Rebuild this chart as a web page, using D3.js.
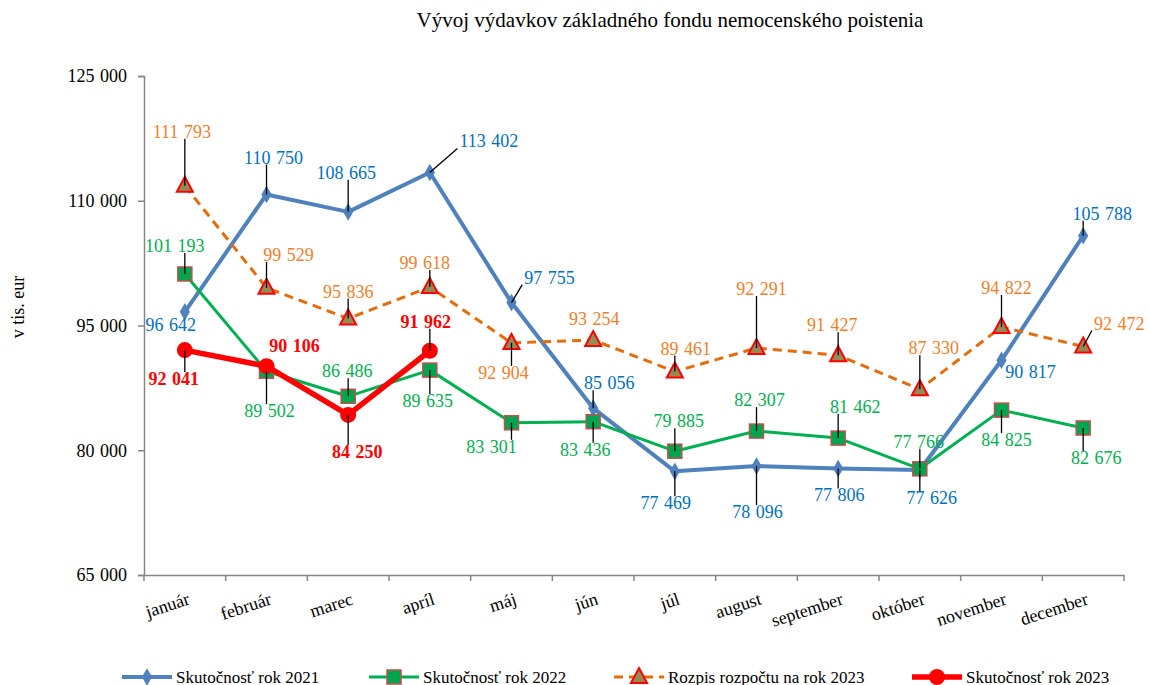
<!DOCTYPE html>
<html>
<head>
<meta charset="utf-8">
<script src="https://cdn.jsdelivr.net/npm/d3@7"></script>
<style>
  body { margin: 0; background: #fff; }
  text { font-family: "Liberation Serif", "Times New Roman", serif; }
</style>
</head>
<body>
<div id="chart"></div>
<script>
// data
var months = ["január", "február", "marec", "apríl", "máj", "jún", "júl", "august", "september", "október", "november", "december"];
var yTicks = [65000, 80000, 95000, 110000, 125000];
var real2021 = [96642, 110750, 108665, 113402, 97755, 85056, 77469, 78096, 77806, 77626, 90817, 105788];
var real2022 = [101193, 89502, 86486, 89635, 83301, 83436, 79885, 82307, 81462, 77766, 84825, 82676];
var budget2023 = [111793, 99529, 95836, 99618, 92904, 93254, 89461, 92291, 91427, 87330, 94822, 92472];
var real2023 = [92041, 90106, 84250, 91962];
var seriesNames = ["Skutočnosť rok 2021", "Skutočnosť rok 2022", "Rozpis rozpočtu na rok 2023", "Skutočnosť rok 2023"];

// label placement (offset of label centre from its point)
var off2021 = [[-14,13],[7,-37],[-2,-39],[59,-31],[38,-25],[16,-25],[-9,32],[1,46],[1,27],[12,28],[29,12],[19,-22]];
var off2022 = [[-10,-28],[3,40],[-1,-25],[-2,31],[-20,24],[-8,28],[4,-30],[3,-31],[17,-31],[-1,-27],[5,30],[13,30]];
var offBudget = [[-3,-54],[22,-33],[0,-27],[-5,-24],[-8,30],[1,-21],[11,-23],[5,-59],[-6,-30],[14,-41],[5,-39],[36,-23]];
var off2023 = [[-11,29],[28,-20],[9,37],[-4,-29]];

var width = 1149, height = 685;
var pL = 144, pR = 1124, pT = 76, pB = 575;

var svg = d3.select("#chart").append("svg")
    .attr("width", width)
    .attr("height", height);

var x = d3.scaleBand().domain(months).range([pL, pR]);
var y = d3.scaleLinear().domain([65000, 125000]).range([pB, pT]);

var loc = d3.formatLocale({decimal: ",", thousands: " ", grouping: [3], currency: ["", ""]});
var fmt = loc.format(",d");

// title
svg.append("text")
    .attr("x", 670).attr("y", 27)
    .attr("text-anchor", "middle")
    .style("font-size", "21px")
    .text("Vývoj výdavkov základného fondu nemocenského poistenia");

// y axis
var yAxis = d3.axisLeft(y).tickValues(yTicks).tickSize(6).tickPadding(11).tickFormat(fmt);
var gy = svg.append("g").attr("transform", "translate(" + pL + ",0)").call(yAxis);
gy.select(".domain").attr("stroke", "#868686").attr("stroke-width", 1.5);
gy.selectAll(".tick line").attr("stroke", "#868686").attr("stroke-width", 1.5);
gy.selectAll(".tick text").style("font-size", "18px").style("word-spacing", "1px")
    .attr("fill", "#000");

svg.append("text")
    .attr("transform", "translate(24,307) rotate(-90)")
    .attr("text-anchor", "middle")
    .style("font-size", "18px")
    .text("v tis. eur");

// x axis
var xAxis = d3.axisBottom(x).tickSize(0).tickFormat("");
var gx = svg.append("g").attr("transform", "translate(0," + pB + ")").call(xAxis);
gx.select(".domain").attr("stroke", "#868686").attr("stroke-width", 1.5);
var bounds = months.map(function(m) { return x(m); }).concat([pR]);
gx.selectAll(".sep").data(bounds).enter().append("line")
    .attr("x1", function(d) { return d; }).attr("x2", function(d) { return d; })
    .attr("y1", 0).attr("y2", 6)
    .attr("stroke", "#868686").attr("stroke-width", 1.5);
svg.selectAll(".mlabel").data(months).enter().append("text")
    .attr("class", "mlabel")
    .attr("text-anchor", "end")
    .attr("transform", function(d) {
        return "translate(" + (x(d) + x.bandwidth() / 2 + 6) + ",604) rotate(-18)";
    })
    .style("font-size", "18px")
    .text(function(d) { return d; });

var cx = function(d, i) { return x(months[i]) + x.bandwidth() / 2; };

var series = [
  {vals: real2021, off: off2021, color: "#4F81BD", lw: 4, dash: null, text: "#0070C0", bold: false, marker: "diamond"},
  {vals: real2022, off: off2022, color: "#00B050", lw: 3, dash: null, text: "#00B050", bold: false, marker: "square"},
  {vals: budget2023, off: offBudget, color: "#E46C0A", lw: 3, dash: "9,6", text: "#F07F2B", bold: false, marker: "triangle"},
  {vals: real2023, off: off2023, color: "#FF0000", lw: 5.5, dash: null, text: "#FF0000", bold: true, marker: "circle"}
];

function drawMarker(g, type, px, py) {
  if (type === "diamond") {
    g.append("path").attr("d", d3.symbol().type(d3.symbolDiamond).size(90)())
      .attr("transform", "translate(" + px + "," + py + ")")
      .attr("fill", "#4F81BD");
  } else if (type === "square") {
    g.append("rect").attr("x", px - 7).attr("y", py - 7).attr("width", 14).attr("height", 14)
      .attr("fill", "#00A550").attr("stroke", "#C0504D").attr("stroke-width", 1.5);
  } else if (type === "triangle") {
    g.append("path").attr("d", "M" + px + "," + (py - 9) + "L" + (px + 8) + "," + (py + 6) + "L" + (px - 8) + "," + (py + 6) + "Z")
      .attr("fill", "#948A54").attr("stroke", "#FF0000").attr("stroke-width", 2);
  } else {
    g.append("circle").attr("cx", px).attr("cy", py).attr("r", 8).attr("fill", "#FF0000");
  }
}

var lineGen = d3.line().x(cx).y(function(d) { return y(d); });

series.forEach(function(s) {
  var g = svg.append("g");
  g.append("path").datum(s.vals)
    .attr("d", lineGen)
    .attr("fill", "none")
    .attr("stroke", s.color)
    .attr("stroke-width", s.lw)
    .attr("stroke-dasharray", s.dash)
    .attr("stroke-linejoin", "round");
  s.vals.forEach(function(v, i) {
    drawMarker(g, s.marker, cx(v, i), y(v));
  });
});

// data labels with leader lines
series.forEach(function(s) {
  var g = svg.append("g");
  s.vals.forEach(function(v, i) {
    var px = cx(v, i), py = y(v);
    var lx = px + s.off[i][0], ly = py + s.off[i][1];
    var t = g.append("text")
      .attr("x", lx).attr("y", ly)
      .attr("text-anchor", "middle")
      .attr("dominant-baseline", "central")
      .attr("fill", s.text)
      .style("font-size", "18px")
      .style("word-spacing", "1px")
      .style("font-weight", s.bold ? "bold" : "normal")
      .text(fmt(v));
    var bb = t.node().getBBox();
    var x0 = bb.x - 2, x1 = bb.x + bb.width + 2, y0 = bb.y + 3, y1 = bb.y + bb.height - 3;
    var ex = Math.max(x0, Math.min(px, x1)), ey = Math.max(y0, Math.min(py, y1));
    if (Math.hypot(ex - px, ey - py) > 14) {
      g.insert("line", "text")
        .attr("x1", px).attr("y1", py).attr("x2", ex).attr("y2", ey)
        .attr("stroke", "#000").attr("stroke-width", 1.3);
    }
  });
});

// legend
var legX = [122, 369, 614, 912];
var lg = svg.append("g");
series.forEach(function(s, i) {
  var lx = legX[i], ly = 677;
  lg.append("line")
    .attr("x1", lx).attr("x2", lx + 50).attr("y1", ly).attr("y2", ly)
    .attr("stroke", s.color).attr("stroke-width", s.lw).attr("stroke-dasharray", s.dash);
  drawMarker(lg, s.marker, lx + 25, ly);
  lg.append("text")
    .attr("x", lx + 54).attr("y", ly)
    .attr("dominant-baseline", "central")
    .style("font-size", "17px")
    .text(seriesNames[i]);
});
</script>
</body>
</html>
